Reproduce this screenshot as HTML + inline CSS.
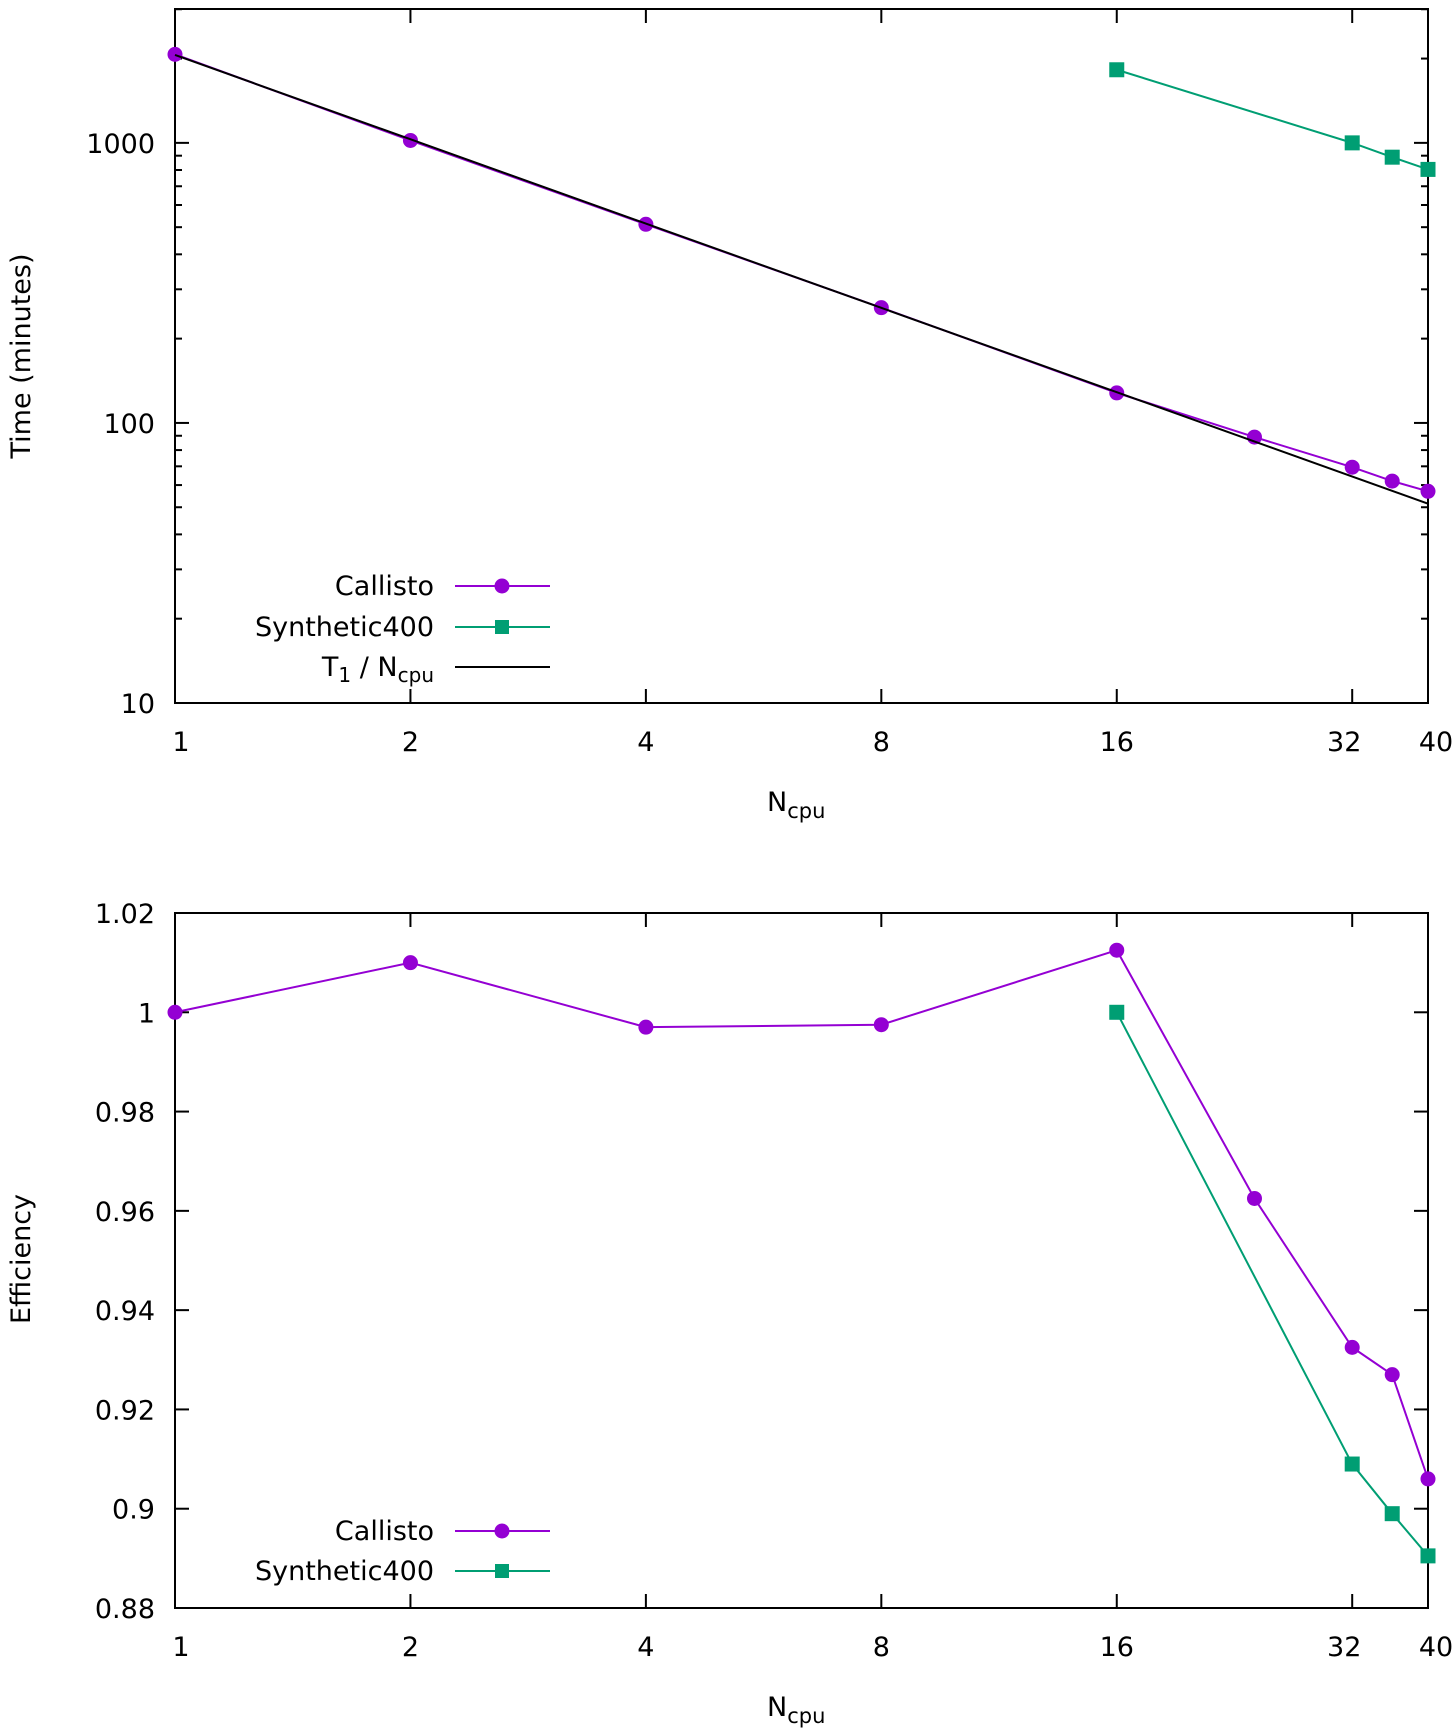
<!DOCTYPE html>
<html><head><meta charset="utf-8"><style>
body{margin:0;background:#fff}
svg{display:block;font-family:"DejaVu Sans","Liberation Sans",sans-serif}
</style></head><body>
<svg id="c" width="1456" height="1736" viewBox="0 0 1456 1736" xmlns="http://www.w3.org/2000/svg"></svg>
<script>
const ncpuCallisto=[1,2,4,8,16,24,32,36,40];
const timeCallisto=[2070,1020,512,258,128,89,69.5,62,57];
const ncpuSynth=[16,32,36,40];
const timeSynth=[1824,1000,889,804];
const idealT1=2060;
const effCallisto=[1,1.01,0.997,0.9975,1.0125,0.9625,0.9325,0.927,0.906];
const effSynth=[1,0.909,0.899,0.8905];
const xTicks=[1,2,4,8,16,32,40];
const yTimeTicks=[10,100,1000];
const yEffTicks=[0.88,0.9,0.92,0.94,0.96,0.98,1,1.02];
const yEffLabels=["0.88","0.9","0.92","0.94","0.96","0.98","1","1.02"];

const NS="http://www.w3.org/2000/svg";
const svg=document.getElementById('c');
const PUR="#9400d3",GRN="#009e73";
const L=175,R=1428,FS=27;
function mk(tag,a,parent){const e=document.createElementNS(NS,tag);for(const k in a)e.setAttribute(k,a[k]);(parent||svg).appendChild(e);return e;}
const xs=v=>L+(R-L)*Math.log2(v)/Math.log2(40);
const T1={top:9,bot:703},T2={top:913,bot:1608};
const ys1=v=>T1.bot-(T1.bot-T1.top)*(Math.log10(v)-1)/(Math.log10(3006)-1);
const ys2=v=>T2.bot-(T2.bot-T2.top)*(v-0.88)/(1.02-0.88);

function frame(P,name){
  const g=mk('g',{});
  mk('rect',{x:L,y:P.top,width:R-L,height:P.bot-P.top,fill:'none',stroke:'#000','stroke-width':2},g);
  xTicks.forEach(t=>{const x=xs(t);
    mk('line',{x1:x,x2:x,y1:P.bot,y2:P.bot-14,stroke:'#000','stroke-width':2},g);
    mk('line',{x1:x,x2:x,y1:P.top,y2:P.top+14,stroke:'#000','stroke-width':2},g);
    const tx=mk('text',{x:x+(t==1?6:t==32?-8:t==40?8:0),y:P.bot+48,'font-size':FS,'text-anchor':'middle',fill:'#000'},g);tx.textContent=t;
    
  });
  return g;
}
function series(xsArr,ysArr,ysF,color,shape,name){
  const g=mk('g',{});
  const pts=xsArr.map((x,i)=>xs(x)+','+ysF(ysArr[i])).join(' ');
  mk('polyline',{points:pts,fill:'none',stroke:color,'stroke-width':2},g);
  xsArr.forEach((x,i)=>{const cx=xs(x),cy=ysF(ysArr[i]);
    let m;
    if(shape=='c')m=mk('circle',{cx,cy,r:7.5,fill:color},g);
    else m=mk('rect',{x:cx-7.5,y:cy-7.5,width:15,height:15,fill:color},g);
    
  });
}
function legend(y,label,color,shape,sub){
  const g=mk('g',{});
  const t=mk('text',{x:434,y:y+9,'font-size':FS,'text-anchor':'end',fill:'#000'},g);
  if(sub){t.innerHTML='T<tspan font-size="20" dy="6">1</tspan><tspan dy="-6"> / N</tspan><tspan font-size="20" dy="6">cpu</tspan>';}
  else t.textContent=label;
  mk('line',{x1:455,x2:550,y1:y,y2:y,stroke:color,'stroke-width':2},g);
  if(shape=='c')mk('circle',{cx:502,cy:y,r:7.5,fill:color},g);
  if(shape=='s')mk('rect',{x:495,y:y-7,width:14,height:14,fill:color},g);
}
function xlabel(y){const t=mk('text',{x:767,y:y,'font-size':FS,fill:'#000'});t.innerHTML='N<tspan font-size="21" dy="7">cpu</tspan>';
  }
function ylabel(y,txt){const t=mk('text',{x:0,y:0,'font-size':FS,'text-anchor':'middle',fill:'#000',transform:`translate(30,${y}) rotate(-90)`});t.textContent=txt;
  }

// Top chart
const g1=frame(T1,'time-chart');
for(let d=10;d<=1000;d*=10){for(let k=1;k<=9;k++){const v=d*k;if(v>3006)break;const y=ys1(v);const len=k==1?14:7;
  mk('line',{x1:L,x2:L+len,y1:y,y2:y,stroke:'#000','stroke-width':2},g1);
  mk('line',{x1:R,x2:R-len,y1:y,y2:y,stroke:'#000','stroke-width':2},g1);}}
yTimeTicks.forEach(t=>{const tx=mk('text',{x:155,y:ys1(t)+10,'font-size':FS,'text-anchor':'end',fill:'#000'},g1);tx.textContent=t;
  });
series(ncpuCallisto,timeCallisto,ys1,PUR,'c','callisto-time-series');
const ideal=mk('line',{x1:xs(1),y1:ys1(idealT1),x2:xs(40),y2:ys1(idealT1/40),stroke:'#000','stroke-width':2});

series(ncpuSynth,timeSynth,ys1,GRN,'s','synthetic400-time-series');
legend(586,'Callisto',PUR,'c');legend(627,'Synthetic400',GRN,'s');legend(667,'',"#000",'',true);
xlabel(811);ylabel(356,'Time (minutes)');

// Bottom chart
const g2=frame(T2,'efficiency-chart');
yEffTicks.forEach((t,i)=>{const y=ys2(t);
  mk('line',{x1:L,x2:L+14,y1:y,y2:y,stroke:'#000','stroke-width':2},g2);
  mk('line',{x1:R,x2:R-14,y1:y,y2:y,stroke:'#000','stroke-width':2},g2);
  const tx=mk('text',{x:155,y:y+10,'font-size':FS,'text-anchor':'end',fill:'#000'},g2);tx.textContent=yEffLabels[i];
  });
series(ncpuCallisto,effCallisto,ys2,PUR,'c','callisto-efficiency-series');
series(ncpuSynth,effSynth,ys2,GRN,'s','synthetic400-efficiency-series');
legend(1531,'Callisto',PUR,'c');legend(1571,'Synthetic400',GRN,'s');
xlabel(1716);ylabel(1259,'Efficiency');
</script>
</body></html>
